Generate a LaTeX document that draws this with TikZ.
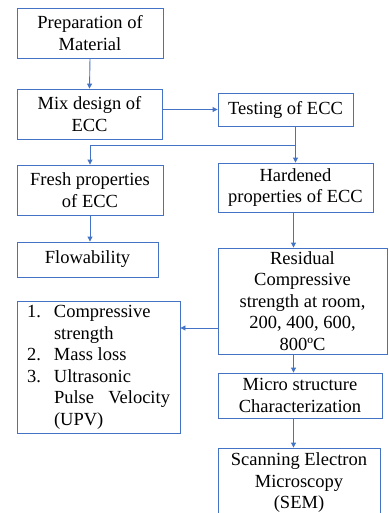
\documentclass[tikz,border=0pt]{standalone}
\usepackage{fontspec}
\setmainfont{Liberation Serif}
\usetikzlibrary{positioning,arrows.meta}
\definecolor{wordblue}{RGB}{68,114,196}
\tikzset{
  flowbox/.style={draw=wordblue, line width=0.9pt, align=center, inner sep=0pt,
                  font=\fontsize{18.5}{21.5}\selectfont},
  flowarrow/.style={draw=wordblue, line width=0.9pt, -{Triangle[width=5pt,length=5pt]}}
}

\begin{document}
\begin{tikzpicture}[x=1pt, y=-1pt]
	\useasboundingbox (0,0) rectangle (388,513);

	% left column
	\node[flowbox, minimum width=146, minimum height=50] (prep) at (90,33) {Preparation of\\Material};
	\node[flowbox, minimum width=145, minimum height=50] (mix) at (89.5,114) {Mix design of\\ECC};
	\node[flowbox, minimum width=146, minimum height=50] (fresh) at (90,190) {Fresh properties\\of ECC};
	\node[flowbox, minimum width=141, minimum height=35] (flow) at (87.5,259.5) {Flowability};
	\node[flowbox, minimum width=163, minimum height=132] (list) at (98.5,367) {%
		\begin{tabular}{@{}p{27pt}@{}p{116pt}@{}}
			1. & Compressive\newline strength\\
			2. & Mass loss\\
			3. & Ultrasonic\newline Pulse\hfill Velocity\newline (UPV)\\
		\end{tabular}};

	% right column
	\node[flowbox, minimum width=135, minimum height=33] (test) at (285.5,109.5) {Testing of ECC};
	\node[flowbox, minimum width=155, minimum height=49] (hard) at (295.5,187.5) {Hardened\\properties of ECC};
	\node[flowbox, minimum width=169, minimum height=106] (resid) at (302.5,301) {Residual\\Compressive\\strength at room,\\200, 400, 600,\\800ºC};
	\node[flowbox, minimum width=164, minimum height=45] (micro) at (300,395.5) {Micro structure\\Characterization};
	\node[flowbox, minimum width=162, minimum height=70] (sem) at (299,483) {Scanning Electron\\Microscopy\\(SEM)};

	\coordinate (branch) at (0,145);
	\coordinate (side) at (0,328);
	\coordinate (spine) at (293.5,0);

	\draw[flowarrow] (prep.south) -- (mix.north);
	\draw[flowarrow] (test.west -| mix.east) -- (test.west);
	\draw[flowarrow] (test.south -| hard.north) -- (hard.north);
	\draw[flowarrow] (hard.north |- branch) -| (fresh.north);
	\draw[flowarrow] (fresh.south) -- (fresh.south |- flow.north);
	\draw[flowarrow] (spine |- hard.south) -- (spine |- resid.north);
	\draw[flowarrow] (resid.west |- side) -- (list.east |- side);
	\draw[flowarrow] (spine |- resid.south) -- (spine |- micro.north);
	\draw[flowarrow] (spine |- micro.south) -- (spine |- sem.north);
\end{tikzpicture}
\end{document}
